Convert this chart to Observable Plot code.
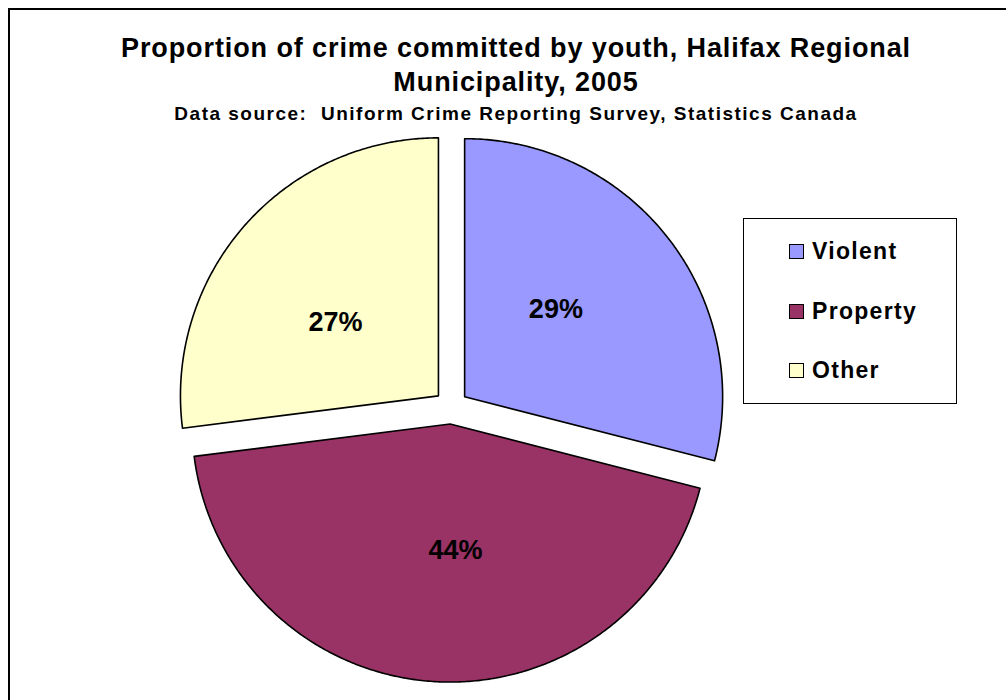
<!DOCTYPE html>
<html><head><meta charset="utf-8">
<script src="https://cdn.jsdelivr.net/npm/d3@7"></script>
<script src="https://cdn.jsdelivr.net/npm/@observablehq/plot@0.6"></script>
<style>
body{margin:0;background:#fff;font-family:"Liberation Sans",Arial,sans-serif;color:#000;}
#wrap{position:relative;width:1006px;height:700px;overflow:hidden;background:#fff;}
#frame{position:absolute;left:8px;top:8px;width:1100px;height:800px;border:2px solid #000;box-sizing:border-box;}
#head{position:relative;width:1006px;height:130px;box-sizing:border-box;padding-top:31px;padding-left:26px;text-align:center;}
#title{font-size:27px;font-weight:bold;line-height:34px;letter-spacing:0.9px;}
#sub{font-size:19px;font-weight:bold;line-height:22px;margin-top:4px;letter-spacing:1.5px;}
#chart{position:relative;}
#legend{position:absolute;left:743px;top:218px;width:214px;height:186px;border:1.5px solid #000;box-sizing:border-box;background:#fff;}
.item{position:absolute;left:45px;font-size:23px;font-weight:bold;line-height:26px;display:flex;align-items:center;letter-spacing:1.3px;}
.sw{width:13px;height:13px;border:1.3px solid #000;margin-right:8px;}
</style></head>
<body>
<div id="wrap">
  <div id="frame"></div>
  <div id="head">
    <div id="title">Proportion of crime committed by youth, Halifax Regional<br>Municipality, 2005</div>
    <div id="sub">Data source:&nbsp; Uniform Crime Reporting Survey, Statistics Canada</div>
  </div>
  <div id="chart"></div>
  <div id="legend"></div>
</div>
<script>
// ---- data ----
const categories = ["Violent", "Property", "Other"];
const shares = [29, 44, 27];
const colors = ["#9999FF", "#993366", "#FFFFCC"];
const labels = ["29%", "44%", "27%"];

// ---- layout constants ----
const W = 1006, H = 570;
const R = 258;          // pie radius in px
const CX = 450.7, CY = 276.6; // pie centre in px (svg coords)
const EXPLODE = 17 / R; // slice offset, in radius units
const LABEL_K = 0.49, LABEL_ROT = -6;

const total = d3.sum(shares);
const rad = a => a * Math.PI / 180;
let cum = 0;
const pts = [];
const labs = [];
categories.forEach((c, i) => {
  const a0 = cum / total * 360;
  cum += shares[i];
  const a1 = cum / total * 360;
  const b = (a0 + a1) / 2;
  const ox = EXPLODE * Math.sin(rad(b)), oy = EXPLODE * Math.cos(rad(b));
  pts.push({category: c, x: ox, y: oy});
  const n = Math.ceil((a1 - a0) / 0.5);
  for (let k = 0; k <= n; k++) {
    const t = a0 + (a1 - a0) * k / n;
    pts.push({category: c, x: ox + Math.sin(rad(t)), y: oy + Math.cos(rad(t))});
  }
  const lb = rad(b + LABEL_ROT);
  labs.push({category: c, label: labels[i], x: ox + LABEL_K * Math.sin(lb), y: oy + LABEL_K * Math.cos(lb)});
});

const chart = Plot.plot({
  width: W, height: H,
  margin: 0,
  x: {domain: [-CX / R, (W - CX) / R], axis: null},
  y: {domain: [-(H - CY) / R, CY / R], axis: null},
  color: {domain: categories, range: colors},
  style: {fontFamily: "'Liberation Sans', Arial, sans-serif", background: "transparent", overflow: "visible"},
  marks: [
    Plot.line(pts, {x: "x", y: "y", z: "category", fill: "category", stroke: "#000", strokeWidth: 1.6, curve: "linear-closed"}),
    Plot.text(labs, {x: "x", y: "y", text: "label", fontSize: 27, fontWeight: "bold", fill: "#000"})
  ]
});
document.getElementById("chart").appendChild(chart);

const leg = document.getElementById("legend");
const legTops = [19, 79, 138];
categories.forEach((c, i) => {
  const d = document.createElement("div");
  d.className = "item";
  d.style.top = legTops[i] + "px";
  d.innerHTML = `<span class="sw" style="background:${colors[i]}"></span>${c}`;
  leg.appendChild(d);
});
</script>
</body></html>
